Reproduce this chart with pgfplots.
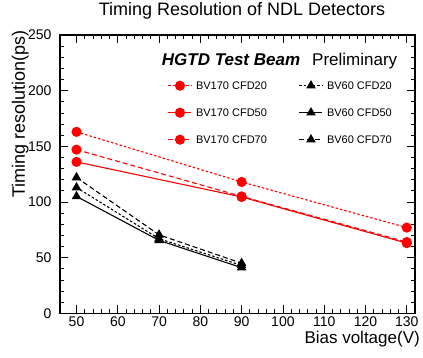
\documentclass[border=0pt]{standalone}
\usepackage{pgfplots}
\pgfplotsset{compat=1.18}
\usepackage{fontspec}
\setmainfont{Liberation Sans}
\begin{document}
\begin{tikzpicture}
\useasboundingbox (-60pt,-44.7pt) rectangle (363pt,313.3pt);
\begin{axis}[
  scale only axis,
  width=355pt, height=278.3pt,
  xmin=46, xmax=132, ymin=0, ymax=250,
  xtick={50,60,...,130}, ytick={0,50,...,250},
  minor x tick num=4, minor y tick num=4,
  tick align=inside,
  major tick length=8pt, minor tick length=4pt,
  every tick/.style={black, line width=0.8pt},
  axis line style={line width=1.2pt},
  /pgf/number format/assume math mode=true,
  tick label style={font=\fontsize{14}{14}\selectfont},
  yticklabel style={xshift=-5pt},
  every axis title shift=0pt,
  title={Timing Resolution of NDL Detectors},
  title style={font=\fontsize{18}{18}\selectfont, at={([shift={(4.5pt,19pt)}]axis description cs:0.5,1)}, anchor=base, inner sep=0pt},
  xlabel={Bias voltage(V)},
  xlabel style={font=\fontsize{17}{17}\selectfont, at={([shift={(5pt,-30.7pt)}]axis description cs:1,0)}, anchor=base east, inner sep=0pt},
  ylabel={Timing resolution(ps)},
  ylabel style={font=\fontsize{18}{18}\selectfont, at={([shift={(-35pt,5pt)}]axis description cs:0,1)}, anchor=base east, inner sep=0pt},
  legend columns=2,
  legend cell align=left,
  legend image code/.code={\draw[mark repeat=2,mark phase=2] plot coordinates {(0pt,0pt)(11.5pt,0pt)(23pt,0pt)};},
  legend style={draw=none, fill=none, inner sep=0pt, outer sep=0pt,
    at={(axis description cs:0.304,0.834)}, anchor=north west,
    font=\fontsize{11}{11}\selectfont,
    nodes={inner sep=0pt, text height=8pt, text depth=0pt},
    row sep=18pt,
    /tikz/every odd column/.append style={column sep=4pt},
    /tikz/every even column/.append style={column sep=32pt}},
]
\addplot[red, line width=1.1pt, dash pattern=on 2.5pt off 2pt, mark=*, mark size=4.5pt, mark options={solid}] coordinates {(50,163)(90,118)(130,77)};
\addlegendentry{BV170 CFD20}
\addplot[black, line width=1.1pt, dash pattern=on 2.5pt off 2pt, mark=triangle*, mark size=4.5pt, mark options={solid}] coordinates {(50,113)(70,67)(90,43)};
\addlegendentry{BV60 CFD20}
\addplot[red, line width=1.1pt, solid, mark=*, mark size=4.5pt] coordinates {(50,136)(90,104.5)(130,63)};
\addlegendentry{BV170 CFD50}
\addplot[black, line width=1.1pt, solid, mark=triangle*, mark size=4.5pt] coordinates {(50,105)(70,65.5)(90,41)};
\addlegendentry{BV60 CFD50}
\addplot[red, line width=1.1pt, dash pattern=on 5pt off 3pt, mark=*, mark size=4.5pt, mark options={solid}] coordinates {(50,147)(90,105)(130,64)};
\addlegendentry{BV170 CFD70}
\addplot[black, line width=1.1pt, dash pattern=on 5pt off 3pt, mark=triangle*, mark size=4.5pt, mark options={solid}] coordinates {(50,122)(70,70.5)(90,45)};
\addlegendentry{BV60 CFD70}
\node[anchor=base west, inner sep=0pt, font=\fontsize{17}{17}\selectfont\bfseries\itshape] at (axis description cs:0.2865,0.892) {HGTD Test Beam};
\node[anchor=base west, inner sep=0pt, font=\fontsize{17}{17}\selectfont] at (axis description cs:0.71,0.892) {Preliminary};
\end{axis}
\end{tikzpicture}
\end{document}
